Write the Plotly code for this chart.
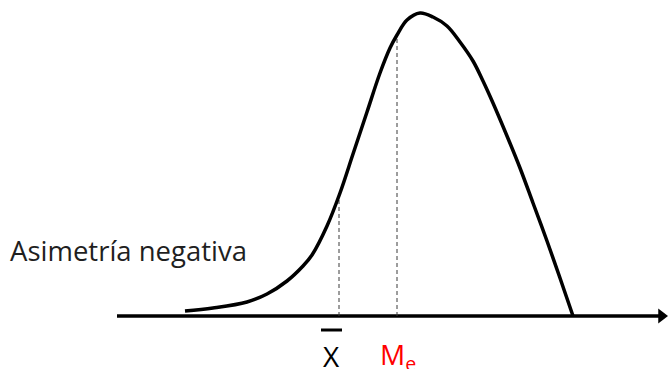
import plotly.graph_objects as go

# Curve (x position, height above the axis)
curve_x = [185, 213, 247, 267, 287, 303, 312, 327, 340, 353, 367, 380, 390, 397, 407, 420,
           433, 447, 460, 473, 483, 493, 507, 520, 533, 547, 560, 573]
curve_h = [5, 8, 14, 22, 35, 50, 61, 90, 123, 162, 204, 243, 268, 281, 296, 303,
           299, 290, 274, 255, 235, 213, 180, 148, 113, 75, 38, 0]

# Mean and median markers
mean_x, mean_h = 339, 121
median_x, median_h = 397, 278

axis_start, axis_end = 117, 669
label_text = "Asimetría negativa"

fig = go.Figure()

# Horizontal axis with arrow
fig.add_trace(go.Scatter(x=[axis_start, axis_end - 9], y=[0, 0], mode="lines",
                         line=dict(color="black", width=3.5), hoverinfo="skip"))
fig.add_trace(go.Scatter(x=[axis_end - 7.5], y=[0], mode="markers",
                         marker=dict(symbol="triangle-right", size=13, color="black",
                                     line=dict(width=0)),
                         cliponaxis=False, hoverinfo="skip"))

# Dashed reference lines
dash_style = dict(color="#3a3a3a", width=1, dash="4px,3px")
fig.add_trace(go.Scatter(x=[mean_x, mean_x], y=[0, mean_h], mode="lines",
                         line=dash_style, hoverinfo="skip"))
fig.add_trace(go.Scatter(x=[median_x, median_x], y=[0, median_h], mode="lines",
                         line=dash_style, hoverinfo="skip"))

# The skewed curve
fig.add_trace(go.Scatter(x=curve_x, y=curve_h, mode="lines",
                         line=dict(color="black", width=3.5, shape="spline", smoothing=1.0),
                         hoverinfo="skip"))

# Overbar of the mean
fig.add_shape(type="line", x0=mean_x - 18, x1=mean_x + 3, y0=-14, y1=-14,
              line=dict(color="black", width=3))

font_family = "'Open Sans', Lato, sans-serif"
fig.add_annotation(x=mean_x - 7.5, y=-40, text="X", showarrow=False,
                   font=dict(family=font_family, size=28, color="black"),
                   xanchor="center", yanchor="middle")
fig.add_annotation(x=378, y=-40, text="M<sub>e</sub>", showarrow=False,
                   font=dict(family=font_family, size=28, color="#ff0000"),
                   xanchor="left", yanchor="middle")
fig.add_annotation(x=8, y=66, text=label_text, showarrow=False,
                   font=dict(family=font_family, size=27.5, color="#1f1f1f"),
                   xanchor="left", yanchor="middle")

fig.update_layout(
    width=669, height=369,
    margin=dict(l=0, r=0, t=0, b=0),
    paper_bgcolor="white", plot_bgcolor="white",
    showlegend=False,
    hovermode=False,
    xaxis=dict(range=[0, 669], visible=False, fixedrange=True),
    yaxis=dict(range=[-53, 316], visible=False, fixedrange=True),
)

# Remove the default page margin so the figure fills the window exactly
fig.write_html("out.html",
               config={"displayModeBar": False, "staticPlot": True},
               post_script="document.body.style.margin='0';document.body.style.overflow='hidden';")
